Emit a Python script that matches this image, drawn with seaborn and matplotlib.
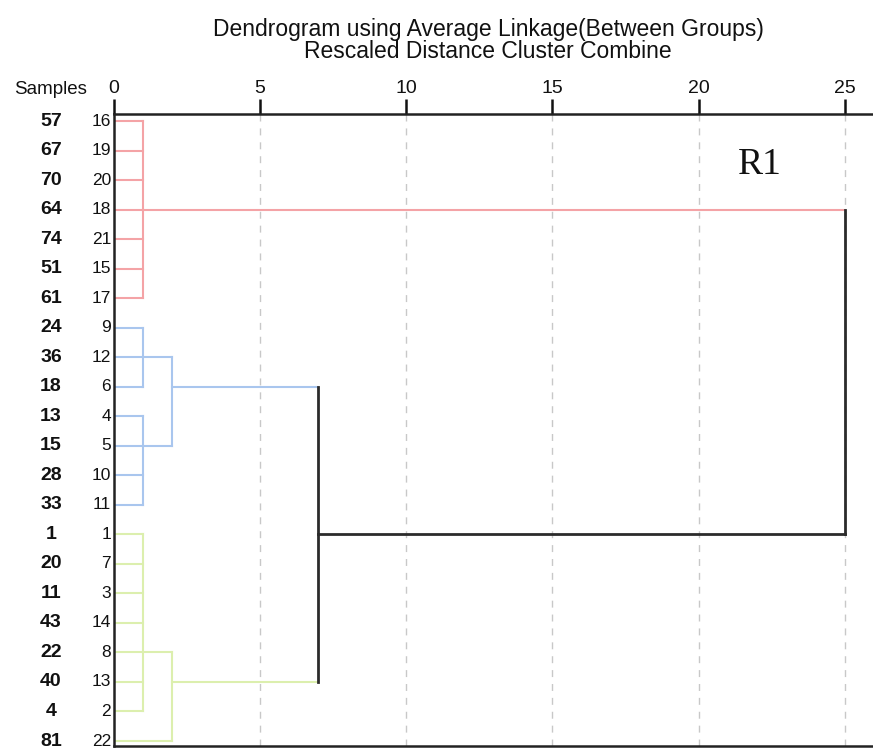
import matplotlib
matplotlib.use("Agg")
import matplotlib.pyplot as plt
import seaborn as sns
import pandas as pd

# Leaf order (top to bottom), case numbers and the sample label of each case
leaf_ids = [16, 19, 20, 18, 21, 15, 17, 9, 12, 6, 4, 5, 10, 11, 1, 7, 3, 14, 8, 13, 2, 22]
sample_ids = [57, 67, 70, 64, 74, 51, 61, 24, 36, 18, 13, 15, 28, 33, 1, 20, 11, 43, 22, 40, 4, 81]
leaf_cluster = ["R"] * 7 + ["B"] * 7 + ["G"] * 8
# rescaled distance at which each leaf's branch ends
leaf_reach = [1, 1, 1, 1, 1, 1, 1,
              1, 2, 1, 1, 2, 1, 1,
              1, 1, 1, 1, 2, 1, 1, 2]

# vertical joins: (cluster, distance, first row, last row)
joins = [
    ("R", 1, 0, 6),
    ("B", 1, 7, 9), ("B", 1, 10, 13), ("B", 2, 8, 11),
    ("G", 1, 14, 20), ("G", 2, 18, 21),
    ("K", 7, 9, 19), ("K", 25, 3, 14),
]
# horizontal links between joins: (cluster, row, from distance, to distance)
links = [
    ("R", 3, 1, 25),
    ("B", 9, 2, 7),
    ("G", 19, 2, 7),
    ("K", 14, 7, 25),
]
x_ticks = [0, 5, 10, 15, 20, 25]

palette = {"R": "#f4a3a6", "B": "#a9c6ee", "G": "#dcefae", "K": "#2b2b2b"}

# Build a long table of line segments
rows = []
seg = 0
for i, (c, r) in enumerate(zip(leaf_cluster, leaf_reach)):
    rows += [dict(seg=seg, x=0, y=i, c=c), dict(seg=seg, x=r, y=i, c=c)]
    seg += 1
for c, h, a, b in joins:
    rows += [dict(seg=seg, x=h, y=a, c=c), dict(seg=seg, x=h, y=b, c=c)]
    seg += 1
for c, r, x0, x1 in links:
    rows += [dict(seg=seg, x=x0, y=r, c=c), dict(seg=seg, x=x1, y=r, c=c)]
    seg += 1
df = pd.DataFrame(rows)

sns.set_style("white")
plt.rcParams["font.family"] = ["Liberation Sans", "DejaVu Sans"]

W, H = 873, 749
fig = plt.figure(figsize=(W / 100, H / 100), dpi=100)
ax_l, ax_r, ax_t, ax_b = 113.5, 873, 114, 746
ax = fig.add_axes([ax_l / W, 1 - ax_b / H, (ax_r - ax_l) / W, (ax_b - ax_t) / H])

px_per_unit = (845 - 113.5) / 25
row0, row_step = 121, (741 - 121) / 21
ax.set_xlim(0, (ax_r - ax_l) / px_per_unit)
ax.set_ylim((ax_b - row0) / row_step, (ax_t - row0) / row_step)

for x in x_ticks[1:]:
    ax.axvline(x, color="#c8c8c8", lw=1, ls=(0, (5, 5)), zorder=0)

for c in ["R", "B", "G", "K"]:
    sub = df[df.c == c]
    sns.lineplot(data=sub, x="x", y="y", units="seg", estimator=None, sort=False,
                 color=palette[c], lw=2.0 if c == "K" else 1.5, ax=ax,
                 legend=False, solid_capstyle="projecting")

ax.set_xlabel("")
ax.set_ylabel("")
ax.set_yticks([])
ax.set_xticks(x_ticks)
ax.xaxis.tick_top()
ax.tick_params(axis="x", direction="out", length=11, width=1.8, pad=1,
               labelsize=14, colors="#111111")
for s in ["left", "top", "bottom"]:
    ax.spines[s].set_visible(True)
    ax.spines[s].set_linewidth(1.8)
    ax.spines[s].set_color("#222222")
ax.spines["right"].set_visible(False)

x_sample = (51 - ax_l) / px_per_unit
for i, (lid, sid) in enumerate(zip(leaf_ids, sample_ids)):
    ax.text(-0.08, i, str(lid), ha="right", va="center", fontsize=12.5,
            color="#111111", clip_on=False)
    ax.text(x_sample, i, str(sid), ha="center", va="center", fontsize=14,
            fontweight="bold", color="#111111", clip_on=False)
ax.text(x_sample, (90 - row0) / row_step, "Samples", ha="center", va="center",
        fontsize=13.5, color="#111111", clip_on=False)

ax.text(22.1, (165 - row0) / row_step, "R1", ha="center", va="center",
        fontsize=27, family=["Liberation Serif", "DejaVu Serif"], color="#111111")

fig.text(488 / W, 1 - 36 / H, "Dendrogram using Average Linkage(Between Groups)",
         ha="center", va="baseline", fontsize=16.5, color="#111111")
fig.text(488 / W, 1 - 58 / H, "Rescaled Distance Cluster Combine",
         ha="center", va="baseline", fontsize=16.5, color="#111111")

fig.savefig("out.png", dpi=100, facecolor="white")
